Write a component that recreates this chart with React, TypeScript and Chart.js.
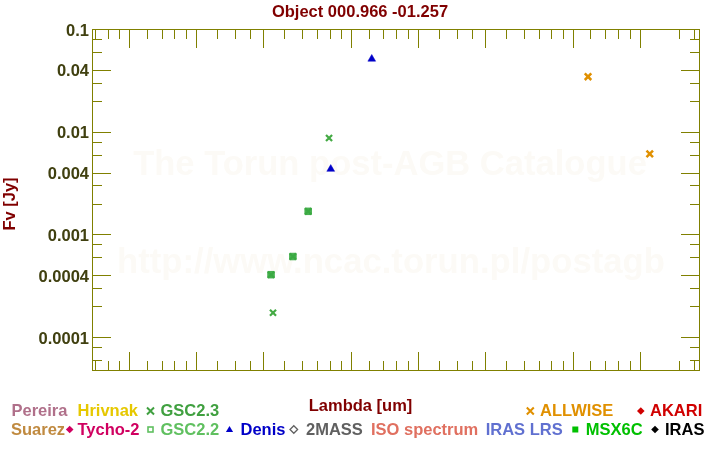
import React, { useEffect, useRef } from "react";
import { Chart, registerables } from "chart.js";

Chart.register(...registerables);

const TITLE = "Object 000.966 -01.257";
const X_TITLE = "Lambda [um]";
const Y_TITLE = "Fv [Jy]";
const WATERMARK_1 = "The Torun post-AGB Catalogue";
const WATERMARK_2 = "http://www.ncac.torun.pl/postagb";

// data (wavelength in um, flux in Jy)
const denisX = [1.24, 0.81];
const denisY = [0.0511, 0.00433];
const gsc23X = [0.445, 0.796, 0.436, 0.547, 0.641];
const gsc23Y = [0.000173, 0.0087, 0.000406, 0.00061, 0.00168];
const gsc22X = [0.436, 0.547, 0.641];
const gsc22Y = [0.000406, 0.00061, 0.00168];
const allwiseX = [11.7, 22.2];
const allwiseY = [0.0343, 0.0061];

// axes
const X_MIN = 0.068;
const X_MAX = 37.4;
const Y_MIN = 4.69e-5;
const Y_MAX = 0.1;
const xMajor = [0.1, 0.2, 0.4, 1, 2, 4, 10, 20];
const xMinor = [0.07, 0.08, 0.09, 0.12, 0.14, 0.16, 0.18, 0.25, 0.3, 0.35, 0.5, 0.6, 0.7, 0.8, 0.9, 1.2, 1.4, 1.6, 1.8, 2.5, 3, 3.5, 5, 6, 7, 8, 9, 12, 14, 16, 18, 30, 35];
const yMajor = [0.0001, 0.0004, 0.001, 0.004, 0.01, 0.04, 0.1];
const yMinor = [0.00006, 0.00008, 0.0002, 0.0003, 0.0006, 0.0008, 0.002, 0.003, 0.006, 0.008, 0.02, 0.03, 0.06, 0.08];

// legend
const legendLabels = ["Pereira", "Hrivnak", "GSC2.3", "ALLWISE", "AKARI", "Suarez", "Tycho-2", "GSC2.2", "Denis", "2MASS", "ISO spectrum", "IRAS LRS", "MSX6C", "IRAS"];
const legendColors = ["#b0708a", "#e6c800", "#40a040", "#e09000", "#d00000", "#c08a40", "#d00060", "#60c060", "#0000c8", "#606060", "#e07060", "#6070d0", "#00c000", "#000000"];
const legendMarkers = ["", "", "cross", "cross", "diamond", "", "diamond", "squareHollow", "triangle", "diamondHollow", "", "", "square", "diamond"];

// layout of legend (text left x, row, marker center x)
const LEGEND_LAYOUT = [
  { tx: 11.5, row: 0, mx: 0 },
  { tx: 77.5, row: 0, mx: 0 },
  { tx: 160.5, row: 0, mx: 150.5 },
  { tx: 540, row: 0, mx: 530.3 },
  { tx: 650, row: 0, mx: 640.8 },
  { tx: 11, row: 1, mx: 0 },
  { tx: 77.5, row: 1, mx: 69.7 },
  { tx: 160.5, row: 1, mx: 150.5 },
  { tx: 240.5, row: 1, mx: 229.5 },
  { tx: 306, row: 1, mx: 293.8 },
  { tx: 371, row: 1, mx: 0 },
  { tx: 485.7, row: 1, mx: 0 },
  { tx: 585.7, row: 1, mx: 575.3 },
  { tx: 665, row: 1, mx: 655 },
];
const ROW_BASE = [415.5, 434.5];
const ROW_MID = [411, 429.5];

const FONT = '"Liberation Sans", Arial, Helvetica, sans-serif';
const FS = 16.5;
const AXIS_COLOR = "#808000";
const TICK_LABEL_COLOR = "#404010";
const TITLE_COLOR = "#800000";

function pts(xs: number[], ys: number[]) {
  return xs.map((x, i) => ({ x, y: ys[i] }));
}

function drawMarker(ctx: CanvasRenderingContext2D, kind: string, x: number, y: number, color: string) {
  ctx.save();
  ctx.fillStyle = color;
  ctx.strokeStyle = color;
  if (kind === "cross") {
    const h = 3.5;
    ctx.lineWidth = 2;
    ctx.beginPath();
    ctx.moveTo(x - h, y - h);
    ctx.lineTo(x + h, y + h);
    ctx.moveTo(x + h, y - h);
    ctx.lineTo(x - h, y + h);
    ctx.stroke();
  } else if (kind === "diamond" || kind === "diamondHollow") {
    const h = 3.8;
    ctx.beginPath();
    ctx.moveTo(x, y - h);
    ctx.lineTo(x + h, y);
    ctx.lineTo(x, y + h);
    ctx.lineTo(x - h, y);
    ctx.closePath();
    if (kind === "diamond") ctx.fill();
    else {
      ctx.lineWidth = 1.3;
      ctx.stroke();
    }
  } else if (kind === "square") {
    ctx.fillRect(x - 3, y - 3, 6, 6);
  } else if (kind === "squareHollow") {
    ctx.lineWidth = 1.6;
    ctx.strokeRect(x - 2.5, y - 2.5, 5, 5);
  } else if (kind === "triangle") {
    ctx.beginPath();
    ctx.moveTo(x, y - 3.5);
    ctx.lineTo(x + 3.6, y + 2.5);
    ctx.lineTo(x - 3.6, y + 2.5);
    ctx.closePath();
    ctx.fill();
  }
  ctx.restore();
}

const decorPlugin = {
  id: "decor",
  beforeDatasetsDraw(chart: any) {
    const { ctx, chartArea } = chart;
    const { left, right, top, bottom } = chartArea;
    const xs = chart.scales.x;
    const ys = chart.scales.y;
    ctx.save();
    // watermark
    ctx.fillStyle = "#fcfaf6";
    ctx.textAlign = "center";
    ctx.textBaseline = "alphabetic";
    const fit = (text: string, w: number) => {
      ctx.font = `bold 100px ${FONT}`;
      const m = ctx.measureText(text).width;
      return (100 * w) / m;
    };
    ctx.font = `bold ${fit(WATERMARK_1, 514)}px ${FONT}`;
    ctx.fillText(WATERMARK_1, 390, 175);
    ctx.font = `bold ${fit(WATERMARK_2, 548)}px ${FONT}`;
    ctx.fillText(WATERMARK_2, 391, 273);

    // frame
    ctx.fillStyle = AXIS_COLOR;
    ctx.fillRect(left, top, right - left, 1);
    ctx.fillRect(left, bottom - 1, right - left, 1);
    ctx.fillRect(left, top, 1, bottom - top);
    ctx.fillRect(right - 1, top, 1, bottom - top);

    const xt = (v: number, len: number) => {
      const p = Math.round(xs.getPixelForValue(v));
      ctx.fillRect(p, bottom - 1 - len, 1, len);
      ctx.fillRect(p, top + 1, 1, len);
    };
    const yt = (v: number, len: number) => {
      const p = Math.round(ys.getPixelForValue(v));
      const py = Math.min(Math.max(p, top), bottom - 1);
      ctx.fillRect(left + 1, py, len, 1);
      ctx.fillRect(right - 1 - len, py, len, 1);
    };
    xMajor.forEach((v) => xt(v, 18));
    xMinor.forEach((v) => xt(v, 9));
    yMajor.forEach((v) => yt(v, 18));
    yMinor.forEach((v) => yt(v, 9));
    ctx.restore();
  },
  afterDraw(chart: any) {
    const { ctx } = chart;
    ctx.save();
    ctx.textBaseline = "alphabetic";
    ctx.font = `bold ${FS}px ${FONT}`;
    // title
    ctx.fillStyle = TITLE_COLOR;
    ctx.textAlign = "center";
    ctx.fillText(TITLE, 360, 16.7);
    // x title
    ctx.fillText(X_TITLE, 360.5, 410.7);
    // y title
    ctx.save();
    ctx.translate(15, 204);
    ctx.rotate(-Math.PI / 2);
    ctx.fillText(Y_TITLE, 0, 0);
    ctx.restore();
    // legend
    ctx.textAlign = "left";
    legendLabels.forEach((label, i) => {
      const L = LEGEND_LAYOUT[i];
      const color = legendColors[i];
      if (legendMarkers[i]) drawMarker(ctx, legendMarkers[i], L.mx, ROW_MID[L.row], color);
      ctx.fillStyle = color;
      ctx.font = `bold ${FS}px ${FONT}`;
      ctx.fillText(label, L.tx, ROW_BASE[L.row]);
    });
    ctx.restore();
  },
};

export default function App() {
  const ref = useRef<HTMLCanvasElement | null>(null);
  useEffect(() => {
    if (!ref.current) return;
    const chart = new Chart(ref.current, {
      type: "scatter",
      data: {
        datasets: [
          {
            label: "Denis",
            data: pts(denisX, denisY),
            pointStyle: "triangle",
            pointRadius: 4.5,
            backgroundColor: "#0000c8",
            borderColor: "#0000c8",
            borderWidth: 0.5,
          },
          {
            label: "GSC2.2",
            data: pts(gsc22X, gsc22Y),
            pointStyle: "rect",
            pointRadius: 4.6,
            backgroundColor: "rgba(58,170,66,0.9)",
            borderColor: "rgba(58,170,66,0.9)",
            borderWidth: 1,
          },
          {
            label: "GSC2.3",
            data: pts(gsc23X, gsc23Y),
            pointStyle: "crossRot",
            pointRadius: 4.3,
            backgroundColor: "#44aa44",
            borderColor: "#44aa44",
            borderWidth: 2.2,
          },
          {
            label: "ALLWISE",
            data: pts(allwiseX, allwiseY),
            pointStyle: "crossRot",
            pointRadius: 4.6,
            backgroundColor: "#e09000",
            borderColor: "#e09000",
            borderWidth: 2.5,
          },
        ],
      },
      options: {
        animation: false,
        responsive: false,
        devicePixelRatio: 1,
        layout: { padding: { top: 29, right: 20, bottom: 79, left: 0 } },
        plugins: {
          legend: { display: false },
          tooltip: { enabled: false },
          title: { display: false },
        },
        scales: {
          x: {
            type: "logarithmic",
            position: "bottom",
            min: X_MIN,
            max: X_MAX,
            bounds: "data",
            grid: { display: false, drawTicks: true, tickLength: 0 },
            border: { display: false },
            afterFit: (s: any) => {
              s.height = 0;
            },
            afterBuildTicks: (s: any) => {
              s.ticks = xMajor.map((v) => ({ value: v }));
            },
            ticks: {
              autoSkip: false,
              maxRotation: 0,
              minRotation: 0,
              padding: 2,
              color: TICK_LABEL_COLOR,
              font: { family: FONT, size: FS, weight: "bold" },
              callback: (v: any) => String(v),
            },
          },
          y: {
            type: "logarithmic",
            position: "left",
            min: Y_MIN,
            max: Y_MAX,
            bounds: "data",
            grid: { display: false, drawTicks: true, tickLength: 0 },
            border: { display: false },
            afterFit: (s: any) => {
              s.width = 92;
            },
            afterBuildTicks: (s: any) => {
              s.ticks = yMajor.map((v) => ({ value: v }));
            },
            ticks: {
              autoSkip: false,
              padding: 3,
              labelOffset: 2,
              color: TICK_LABEL_COLOR,
              font: { family: FONT, size: FS, weight: "bold" },
              callback: (v: any) => String(v),
            },
          },
        },
      },
      plugins: [decorPlugin],
    } as any);
    return () => chart.destroy();
  }, []);
  return (
    <div style={{ position: "fixed", left: 0, top: 0, width: 720, height: 450, background: "#fff" }}>
      <canvas ref={ref} width={720} height={450} style={{ display: "block" }} />
    </div>
  );
}
